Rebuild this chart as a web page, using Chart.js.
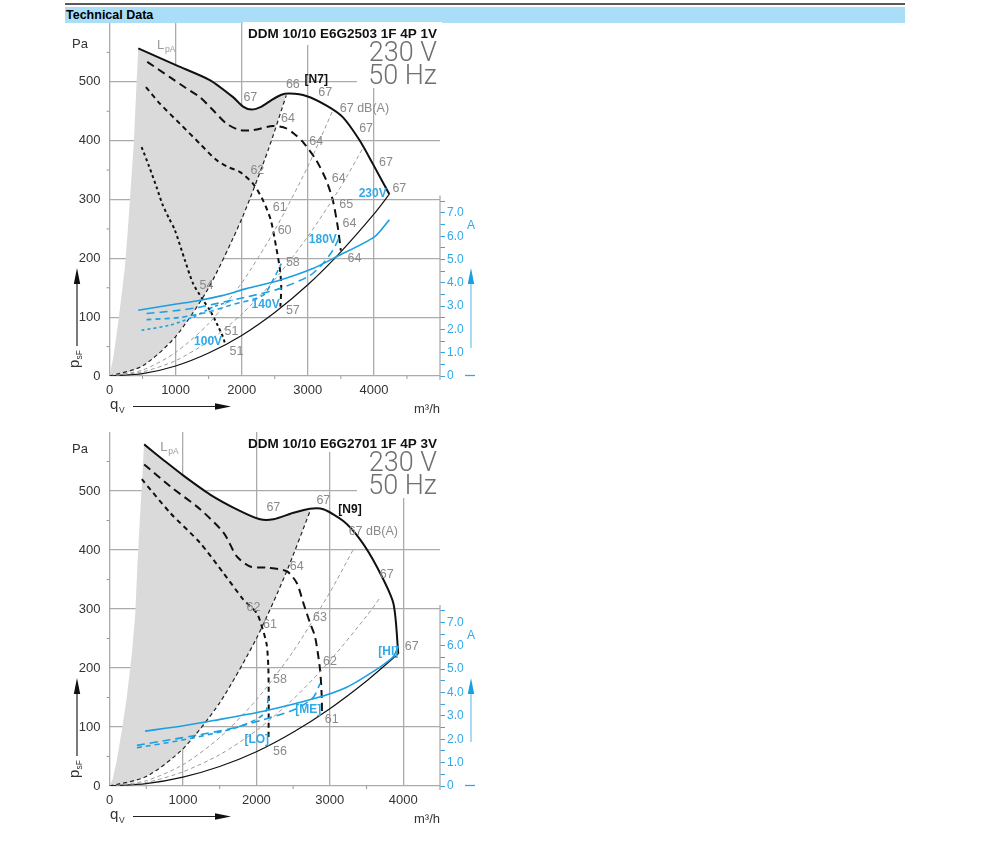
<!DOCTYPE html>
<html lang="en">
<head>
<meta charset="UTF-8">
<title>Technical Data</title>
<script src="https://cdn.jsdelivr.net/npm/chart.js"></script>
<style>
  body { margin: 0; background: #fff; width: 1000px; height: 845px; position: relative; overflow: hidden;
         font-family: "Liberation Sans", Arial, sans-serif; }
  #rule { position: absolute; left: 65px; top: 3px; width: 840px; height: 2px; background: #5a5a5a; }
  #bar { position: absolute; left: 65px; top: 7px; width: 840px; height: 16px; background: #a9def6;
         font-weight: bold; font-size: 12.5px; line-height: 16px; color: #000; text-indent: 1px; }
  canvas { position: absolute; left: 0; }
  #c1 { top: 0; }
  #c2 { top: 410px; }
</style>
</head>
<body>
<div id="rule"></div>
<div id="bar">Technical Data</div>
<canvas id="c1" width="500" height="420"></canvas>
<canvas id="c2" width="500" height="420"></canvas>

<script>
// ---- chart 1 : DDM 10/10 E6G2503 1F 4P 1V  (q in m3/h, p in Pa, I in A) ----
const n7Region = [[0,0],[58,32],[108,72],[174,129],[234,186],[274,243],[309,300],[370,400],[410,500],[435,557],
  [700,543],[1014,528],[1300,514],[1517,503],[1700,489],[1869,474],[2000,459],[2100,454],[2200,454],[2300,458],[2400,465],[2574,477],[2674,479],
  [2500,417],[2250,338],[2000,267],[1750,204],[1500,150],[1250,104],[1000,67],[750,38],[500,17],[250,4],[0,0]];
const n7Max = [[435,557],[1014,528],[1517,503],[1869,474],[2020,458],[2150,453],[2300,458],[2450,469],[2600,478],[2725,480],
  [2976,476],[3278,460],[3529,440],[3781,401],[3982,361],[4234,309]];
const n7Sys1 = [[0,0],[500,17],[1000,67],[1500,150],[2000,267],[2400,384],[2674,477]];
const n7Sys2 = [[0,0],[500,10],[1000,40],[1500,89],[2000,158],[2500,248],[3000,356],[3380,452]];
const n7Sys3 = [[0,0],[500,7],[1000,26],[1500,59],[2000,105],[2500,164],[3000,237],[3500,322],[3831,387]];
const n7Sys4 = [[0,0],[500,4],[1000,17],[1500,39],[2000,69],[2500,108],[3000,155],[3500,211],[4000,275],[4234,309]];
const n7P180 = [[571,534],[913,508],[1150,490],[1366,474],[1600,448],[1769,429],[1970,418],[2171,418],[2472,425],
  [2674,421],[2800,411],[2925,398],[3127,367],[3278,333],[3378,299],[3454,253],[3500,213]];
const n7P140 = [[551,491],[762,463],[1064,429],[1366,395],[1618,367],[1800,355],[1970,347],[2171,327],[2321,299],
  [2440,265],[2520,220],[2580,180],[2598,150],[2585,118]];
const n7P100 = [[486,389],[600,356],[712,321],[800,292],[900,268],[989,248],[1140,197],[1265,157],
  [1416,129],[1517,112],[1620,90],[1718,66],[1743,57]];
const n7I230 = [[434,2.82],[989,3.08],[1316,3.22],[1700,3.45],[2071,3.75],[2574,4.11],[3076,4.61],[3429,5.11],[4008,5.97],[4234,6.71]];
const n7I180 = [[561,2.68],[989,2.8],[1316,2.93],[2071,3.39],[2574,3.75],[3026,4.3],[3227,4.82],[3378,5.39],[3479,5.97]];
const n7I140 = [[561,2.42],[1064,2.51],[1500,2.75],[1819,3.03],[2322,3.46],[2472,4.11],[2599,4.82]];
const n7I100 = [[486,1.96],[913,2.18],[1265,2.53],[1567,2.96],[1869,3.25]];
const n7Notes = [['67',2131,473],['66',2774,496],['67',3263,481],['67 dB(A)',3857,455],['64',2699,438],['67',3882,421],
  ['64',3128,398],['67',4184,362],['62',2237,350],['64',3469,336],['67',4385,319],['65',3580,292],['61',2574,287],
  ['64',3630,259],['60',2649,247],['58',2774,192],['64',3706,200],['54',1467,154],['57',2774,112],['51',1845,76],['51',1920,41]];
const n7Speed = [['230V',3982,310],['180V',3227,231],['140V',2362,122],['100V',1491,58]];

// ---- chart 2 : DDM 10/10 E6G2701 1F 4P 3V ----
const n9Region = [[0,0],[40,10],[100,44],[169,95],[236,151],[305,225],[350,290],[381,378],[418,463],[445,520],[470,579],
  [1007,526],[1200,508],[1370,494],[1550,481],[1733,469],[1900,459],[2050,452],[2231,452],[2400,458],[2503,463],[2650,468],[2731,466],
  [2500,391],[2250,316],[2000,250],[1750,191],[1500,141],[1250,98],[1000,63],[750,35],[500,16],[250,4],[0,0]];
const n9Max = [[472,579],[750,551],[1007,526],[1370,494],[1733,469],[2050,452],[2231,452],[2503,463],[2731,470],
  [2912,469],[3184,449],[3411,418],[3638,372],[3864,310],[3932,224]];
const n9Sys1 = [[0,0],[500,16],[1000,63],[1500,141],[2000,250],[2400,360],[2731,466]];
const n9Sys2 = [[0,0],[500,9],[1000,36],[1500,82],[2000,146],[2500,228],[3000,328],[3320,401]];
const n9Sys3 = [[0,0],[500,6],[1000,24],[1500,53],[2000,94],[2500,147],[3000,212],[3500,288],[3683,319]];
const n9Sys4 = [[0,0],[500,4],[1000,15],[1500,33],[2000,58],[2500,91],[3000,131],[3500,178],[3932,224]];
const n9PMe = [[472,545],[826,508],[1234,469],[1555,429],[1733,389],[1914,372],[2141,370],[2414,364],[2550,344],
  [2640,310],[2731,276],[2799,253],[2867,197],[2890,151],[2893,120]];
const n9PLo = [[440,520],[826,463],[1234,412],[1551,361],[1823,316],[2005,293],[2080,268],[2140,240],[2163,200],[2168,140],[2165,78]];
const n9IHi = [[485,2.35],[1007,2.58],[1415,2.8],[2095,3.2],[2776,3.73],[3230,4.23],[3683,5.09],[3868,5.55],[3932,6.0]];
const n9IMe = [[373,1.74],[826,1.98],[1189,2.17],[1642,2.45],[2095,2.84],[2550,3.31],[2776,3.8],[2867,4.38]];
const n9ILo = [[373,1.64],[962,1.95],[1642,2.42],[2000,2.85],[2130,3.2],[2163,3.85]];
const n9Notes = [['67',2231,472],['67',2912,483],['67 dB(A)',3592,432],['67',3774,358],['64',2550,372],['62',1959,302],
  ['63',2867,286],['61',2186,273],['67',4114,236],['62',3003,211],['58',2322,180],['61',3026,113],['56',2322,58]];
const n9Speed = [['[HI]',3796,228],['[ME]',2707,129],['[LO]',2005,78]];

const qTicks = [0, 1000, 2000, 3000, 4000];

const GRID = '#ababab';
const BLUE = '#1a9fe3';
const BLUE_TXT = '#30a9e8';
const GREY_TXT = '#8a8a8a';
const NONE = 'rgba(0,0,0,0)';
const FONT = '"Liberation Sans", Arial, sans-serif';
const NARROW = '"Liberation Sans Narrow", "Liberation Sans", sans-serif';
Chart.defaults.font.family = FONT;

function pts(a) { return a.map(p => ({ x: p[0], y: p[1] })); }

function curve(data, color, width, dash, axis, order) {
  return { data: pts(data), showLine: true, borderColor: color, borderWidth: width, borderDash: dash || [],
    pointRadius: 0, pointHoverRadius: 0, tension: 0.25, fill: false, yAxisID: axis || 'y', order: order || 0 };
}

function tri(c, p) {
  c.beginPath(); c.moveTo(p[0], p[1]); c.lineTo(p[2], p[3]); c.lineTo(p[4], p[5]); c.closePath(); c.fill();
}

const decor = {
  id: 'decor',
  beforeDatasetsDraw(chart, args, o) {
    const c = chart.ctx, a = chart.chartArea;
    const xs = chart.scales.x, ys = chart.scales.y, y1 = chart.scales.y1;
    c.save();
    // white box behind the title block
    c.fillStyle = '#fff';
    c.fillRect(o.boxLeft, a.top - 1, a.right - o.boxLeft + 2, o.boxMid - a.top + 1);
    c.fillRect(357, a.top - 1, a.right - 357 + 2, 88 - a.top + 1);
    // partial right axis line
    c.strokeStyle = GRID; c.lineWidth = 1.3;
    c.beginPath(); c.moveTo(a.right, y1.getPixelForValue(7.75)); c.lineTo(a.right, a.bottom + 4); c.stroke();
    // minor ticks
    c.lineWidth = 1; c.strokeStyle = '#9a9a9a';
    c.beginPath();
    for (let v = 500; v < xs.max; v += 1000) {
      const px = xs.getPixelForValue(v);
      c.moveTo(px, a.bottom); c.lineTo(px, a.bottom + 3);
    }
    for (let v = 50; v < 600; v += 100) {
      const py = ys.getPixelForValue(v);
      c.moveTo(a.left - 3, py); c.lineTo(a.left, py);
    }
    c.stroke();
    c.restore();
  },
  afterDraw(chart, args, o) {
    const c = chart.ctx, a = chart.chartArea, xs = chart.scales.x, ys = chart.scales.y;
    const X = v => xs.getPixelForValue(v), Y = v => ys.getPixelForValue(v);
    c.save();
    c.textAlign = 'center'; c.textBaseline = 'middle';
    c.font = '12.5px ' + FONT; c.fillStyle = GREY_TXT;
    o.notes.forEach(n => c.fillText(n[0], X(n[1]), Y(n[2])));
    c.font = 'bold 12px ' + NARROW; c.fillStyle = BLUE_TXT;
    o.speed.forEach(n => c.fillText(n[0], X(n[1]), Y(n[2])));
    c.fillStyle = '#111';
    c.fillText(o.tag[0], X(o.tag[1]), Y(o.tag[2]));

    // L pA
    c.textAlign = 'left'; c.textBaseline = 'alphabetic'; c.fillStyle = '#999';
    c.font = '13px ' + FONT; c.fillText('L', X(o.lpa[0]), Y(o.lpa[1]));
    c.font = '8.5px ' + FONT; c.fillText('pA', X(o.lpa[0]) + 8, Y(o.lpa[1]) + 3);

    // title block
    c.textAlign = 'right'; c.fillStyle = '#111';
    c.font = 'bold 13.5px ' + FONT; c.fillText(o.title, 437, 38);
    c.font = '300 27px Roboto, ' + FONT; c.fillStyle = '#707070';
    c.fillText('230 V', 437, 61); c.fillText('50 Hz', 437, 84);

    // left axis texts
    c.textAlign = 'left'; c.fillStyle = '#333';
    c.font = '13px ' + FONT; c.fillText('Pa', 72, o.paY);
    c.save(); c.translate(79, 368); c.rotate(-Math.PI / 2);
    c.font = '15px ' + FONT; c.fillText('p', 0, 0);
    c.font = '8.5px ' + FONT; c.fillText('sF', 8.5, 3);
    c.restore();
    c.strokeStyle = '#222'; c.lineWidth = 1.2; c.fillStyle = '#111';
    c.beginPath(); c.moveTo(77, 346); c.lineTo(77, 282); c.stroke();
    tri(c, [77, 268, 73.8, 284, 80.2, 284]);

    // bottom axis texts
    c.fillStyle = '#333';
    c.font = '15px ' + FONT; c.fillText('q', 110, 409);
    c.font = '8.5px ' + FONT; c.fillText('V', 119, 413);
    c.beginPath(); c.moveTo(133, 406.5); c.lineTo(217, 406.5); c.stroke();
    c.fillStyle = '#111'; tri(c, [231, 406.5, 215, 403.3, 215, 409.7]);
    c.textAlign = 'right'; c.fillStyle = '#333';
    c.font = '13px ' + FONT; c.fillText('m³/h', 440, 413);

    // current axis decorations
    c.textAlign = 'center'; c.fillStyle = BLUE_TXT; c.font = '12px ' + FONT;
    c.fillText('A', 471, 229);
    c.strokeStyle = '#a6dcf5'; c.lineWidth = 2;
    c.beginPath(); c.moveTo(471, o.arrowLow); c.lineTo(471, 282); c.stroke();
    c.fillStyle = BLUE; tri(c, [471, 268, 467.8, 284, 474.2, 284]);
    c.strokeStyle = BLUE_TXT; c.lineWidth = 1.3;
    c.beginPath(); c.moveTo(465, a.bottom - 0.5); c.lineTo(475, a.bottom - 0.5); c.stroke();
    c.restore();
  }
};

function buildChart(id, o) {
  const datasets = [
    { data: pts(o.region), showLine: true, fill: 'shape', backgroundColor: '#dadada', borderWidth: 0,
      pointRadius: 0, tension: 0, yAxisID: 'y', order: 10 },
    curve(o.sys[0], '#222', 1.2, [4, 3]),
    curve(o.sys[1], '#9c9c9c', 1, [4, 3]),
    curve(o.sys[2], '#9c9c9c', 1, [4, 3]),
    curve(o.sys[3], '#111', 1.2, []),
    curve(o.max, '#111', 2, [])
  ];
  o.speeds.forEach(s => datasets.push(curve(s[0], '#111', 2, s[1])));
  o.amps.forEach(s => datasets.push(curve(s[0], BLUE, 1.6, s[1], 'y1', -1)));

  return new Chart(document.getElementById(id), {
    type: 'scatter',
    data: { datasets: datasets },
    options: {
      responsive: false,
      animation: false,
      layout: { padding: { top: o.top, left: 0, right: 0, bottom: 0 } },
      plugins: { legend: { display: false }, tooltip: { enabled: false }, decor: o.decor },
      scales: {
        x: {
          type: 'linear', min: 0, max: o.qMax,
          afterBuildTicks: s => { s.ticks = qTicks.map(v => ({ value: v })); },
          afterFit: s => { s.height = 44; },
          border: { display: false },
          grid: { color: GRID, lineWidth: 1.3, drawTicks: false },
          ticks: { autoSkip: false, maxRotation: 0, padding: 7, color: '#333', font: { size: 13 },
                   callback: v => String(v) }
        },
        y: {
          min: 0, max: 600,
          afterFit: s => { s.width = 109.5; },
          border: { display: false },
          grid: { color: c => (c.tick && c.tick.value < 600) ? GRID : NONE, lineWidth: 1.3, drawTicks: false },
          ticks: { stepSize: 100, padding: 9, color: '#333', font: { size: 13 }, callback: v => v < 600 ? String(v) : '' }
        },
        y1: {
          position: 'right', min: 0, max: 15.15,
          afterFit: s => { s.width = 60; },
          border: { display: false },
          grid: { drawOnChartArea: false, drawTicks: true, tickLength: 5, lineWidth: 1,
                  color: c => (c.tick && c.tick.value <= 7.5) ? BLUE_TXT : NONE },
          ticks: { stepSize: 0.5, autoSkip: false, padding: 2, color: BLUE_TXT, font: { size: 12 },
                   callback: v => (v <= 7 && Number.isInteger(v)) ? (v === 0 ? '0' : v.toFixed(1)) : '' }
        }
      }
    },
    plugins: [decor]
  });
}

buildChart('c1', {
  top: 23, qMax: 5000,
  region: n7Region, max: n7Max, sys: [n7Sys1, n7Sys2, n7Sys3, n7Sys4],
  speeds: [[n7P180, [8, 5]], [n7P140, [5, 4]], [n7P100, [3, 3]]],
  amps: [[n7I230, []], [n7I180, [8, 5]], [n7I140, [5, 4]], [n7I100, [3, 3]]],
  decor: { boxLeft: 243.5, boxMid: 45, paY: 48, arrowLow: 348, title: 'DDM 10/10 E6G2503 1F 4P 1V',
           notes: n7Notes, speed: n7Speed, tag: ['[N7]', 3128, 503], lpa: [720, 555] }
});

buildChart('c2', {
  top: 22, qMax: 4500,
  region: n9Region, max: n9Max, sys: [n9Sys1, n9Sys2, n9Sys3, n9Sys4],
  speeds: [[n9PMe, [8, 5]], [n9PLo, [5, 4]]],
  amps: [[n9IHi, []], [n9IMe, [8, 5]], [n9ILo, [5, 4]]],
  decor: { boxLeft: 259, boxMid: 42, paY: 43, arrowLow: 332, title: 'DDM 10/10 E6G2701 1F 4P 3V',
           notes: n9Notes, speed: n9Speed, tag: ['[N9]', 3275, 469], lpa: [690, 567] }
});
</script>
</body>
</html>
